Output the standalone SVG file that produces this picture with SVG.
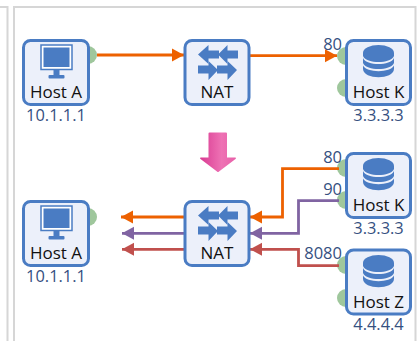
<svg xmlns="http://www.w3.org/2000/svg" width="419" height="341" viewBox="0 0 419 341">
<style>
text{font-family:"Open Sans","Noto Sans","Liberation Sans",sans-serif}
.n{fill:#ecf0fa;stroke:#4a7cc3;stroke-width:3}
.p{fill:#9fc79c}
.t{font-size:17px;fill:#111;text-anchor:middle}
.ip{font-size:16.4px;fill:#35507f;text-anchor:middle}
.l{font-size:16.5px;fill:#35507f;text-anchor:end}
.c{fill:none;stroke-width:2.8}
.i{fill:#4a7cc3}
.panel{fill:none;stroke:#d6d6d6;stroke-width:2}
</style>
<defs>
<linearGradient id="g" x1="0" y1="0" x2="1" y2="0"><stop offset="0" stop-color="#d93a92"/><stop offset="0.6" stop-color="#ee72b4"/><stop offset="1" stop-color="#e860a8"/></linearGradient>
<g id="mon"><rect x="-15.500" y="-24" width="31" height="24.500" fill="#fff" stroke="#4a7cc3" stroke-width="1.500"/><rect class="i" x="-13" y="-21.500" width="26" height="19.500"/><rect class="i" x="-3" y="0" width="6" height="6"/><rect class="i" x="-8" y="6" width="16" height="3.500" rx="1"/></g>
<g id="db"><ellipse class="i" cx="0" cy="-10" rx="15.500" ry="8"/><path class="i" d="M-15.500 -10V-7C-12 1 12 1 15.500 -7V-10Z"/><path class="i" d="M-15.500 -5C-12 3 12 3 15.500 -5V0C12 8 -12 8 -15.500 0Z"/><path class="i" d="M-15.500 2.500C-12 10 12 10 15.500 2.500V6C15 17 -15 17 -15.500 6Z"/></g>
<g id="sw"><path class="i" d="M-19.500 -8.500 L-9 -18 V-12.500 H1.500 V-4.500 H-9 V1 Z"/><path class="i" d="M0.500 -8.500 L10 -18 V-12.500 H20.500 V-4.500 H10 V1 Z"/><path class="i" d="M-19.500 2.500 H-9 V-2 L0.500 7 L-9 17 V10.500 H-19.500 Z"/><path class="i" d="M-0.500 2.500 H10 V-2 L19.500 7 L10 17 V10.500 H-0.500 Z"/></g>
<marker id="ao" markerUnits="userSpaceOnUse" markerWidth="14" markerHeight="15" refX="12" refY="7.500" orient="auto"><path d="M0 1L12 7.500L0 14Z" fill="#ed6100"/></marker>
<marker id="ap" markerUnits="userSpaceOnUse" markerWidth="14" markerHeight="15" refX="12" refY="7.500" orient="auto"><path d="M0 1L12 7.500L0 14Z" fill="#8064a2"/></marker>
<marker id="ar" markerUnits="userSpaceOnUse" markerWidth="14" markerHeight="15" refX="12" refY="7.500" orient="auto"><path d="M0 1L12 7.500L0 14Z" fill="#c0504d"/></marker>
</defs>
<path class="panel" d="M0 7H7.500V341"/>
<path class="panel" d="M14 341V7H415.500V341"/>
<g id="ports">
<circle class="p" cx="88" cy="55" r="9"/><circle class="p" cx="346" cy="56" r="9"/><circle class="p" cx="346" cy="88" r="9"/>
<circle class="p" cx="88" cy="217" r="9"/><circle class="p" cx="346" cy="168" r="9"/><circle class="p" cx="346" cy="200" r="9"/>
<circle class="p" cx="346" cy="265" r="9"/><circle class="p" cx="346" cy="298" r="9"/>
</g>
<g id="connectors">
<path class="c" stroke="#ed6100" d="M97 55H184" marker-end="url(#ao)"/>
<path class="c" stroke="#ed6100" d="M250 55.700H337" marker-end="url(#ao)"/>
<path class="c" stroke="#ed6100" d="M184 217H121" marker-end="url(#ao)"/>
<path class="c" stroke="#8064a2" d="M184 233.300H122" marker-end="url(#ap)"/>
<path class="c" stroke="#c0504d" d="M184 249.300H122" marker-end="url(#ar)"/>
<path class="c" stroke="#ed6100" d="M339 168.700H282.500V217H250" marker-end="url(#ao)"/>
<path class="c" stroke="#8064a2" d="M339 200.700H298.500V233.300H250" marker-end="url(#ap)"/>
<path class="c" stroke="#c0504d" d="M339 265.700H298.500V249.300H250" marker-end="url(#ar)"/>
</g>
<path id="down" d="M208.500 133.500Q208.500 132.500 209.500 132.500H226Q227 132.500 227 133.500V157.500H235.500Q236.500 158 235.500 159L219 171.500Q218 172.500 217 171.500L200.500 159Q199.500 158 200.500 157.500H208.500Z" fill="url(#g)"/>
<g id="hostA1"><rect class="n" x="23.500" y="40.500" width="65" height="64" rx="7"/><use href="#mon" x="56.500" y="69"/><text class="t" x="56" y="98">Host A</text><text class="ip" x="56" y="120.500">10.1.1.1</text></g>
<g id="nat1"><rect class="n" x="185" y="40.500" width="64" height="64" rx="7"/><use href="#sw" x="217.500" y="63"/><text class="t" x="217" y="98">NAT</text></g>
<g id="hostK1"><rect class="n" x="346.500" y="40.500" width="64" height="64" rx="7"/><use href="#db" x="378.500" y="63"/><text class="t" x="378.500" y="98">Host K</text><text class="ip" x="378.500" y="120.500">3.3.3.3</text></g>
<g id="hostA2"><rect class="n" x="23.500" y="201.500" width="65" height="64" rx="7"/><use href="#mon" x="56.500" y="230"/><text class="t" x="56" y="259">Host A</text><text class="ip" x="56" y="281.500">10.1.1.1</text></g>
<g id="nat2"><rect class="n" x="185" y="201.500" width="64" height="64" rx="7"/><use href="#sw" x="217.500" y="224"/><text class="t" x="217" y="259">NAT</text></g>
<g id="hostK2"><rect class="n" x="346.500" y="153.500" width="64" height="64" rx="7"/><use href="#db" x="378.500" y="176"/><text class="t" x="378.500" y="211">Host K</text><text class="ip" x="378.500" y="234">3.3.3.3</text></g>
<g id="hostZ"><rect class="n" x="346.500" y="250" width="64" height="64" rx="7"/><use href="#db" x="378.500" y="273"/><text class="t" x="378.500" y="308">Host Z</text><text class="ip" x="378.500" y="329.500">4.4.4.4</text></g>
<g id="labels">
<text class="l" x="342" y="50">80</text>
<text class="l" x="342" y="163">80</text>
<text class="l" x="342" y="195">90</text>
<text class="l" x="342" y="259">8080</text>
</g>
</svg>
